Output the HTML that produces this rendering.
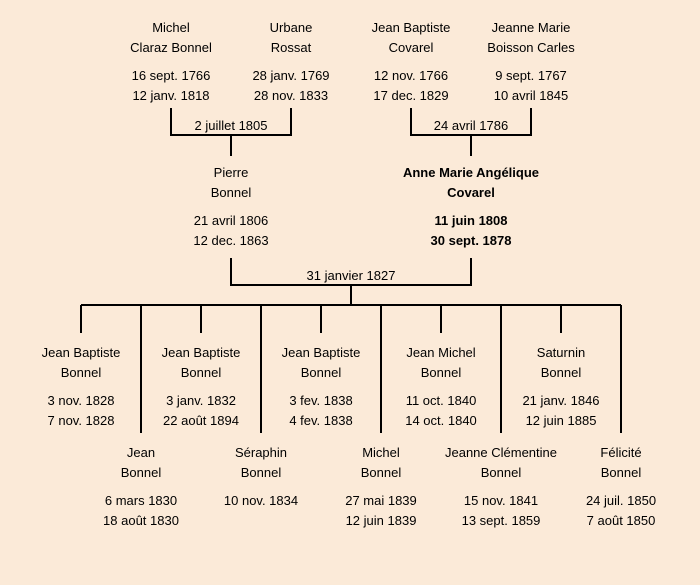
<!DOCTYPE html>
<html><head><meta charset="utf-8"><style>
html,body{margin:0;padding:0;background:#fbead8;}
svg{display:block;}
text{font-family:"Liberation Sans",sans-serif;font-size:13px;fill:#000;text-anchor:middle;}
.b{font-weight:bold;}
</style></head><body>
<svg width="700" height="585" viewBox="0 0 700 585" xmlns="http://www.w3.org/2000/svg">
<rect width="700" height="585" fill="#fbead8"/>
<g stroke="#000" stroke-width="2" fill="none">
<path d="M171 108V135H291V108M231 135V156"/>
<path d="M411 108V135H531V108M471 135V156"/>
<path d="M231 258V285H471V258M351 285V305"/>
<path d="M81 305H621"/>
<path d="M81 305V333M201 305V333M321 305V333M441 305V333M561 305V333"/>
<path d="M141 305V433M261 305V433M381 305V433M501 305V433M621 305V433"/>
</g>
<text x="171" y="32">Michel</text><text x="171" y="52">Claraz Bonnel</text>
<text x="171" y="80">16 sept. 1766</text><text x="171" y="100">12 janv. 1818</text>
<text x="291" y="32">Urbane</text><text x="291" y="52">Rossat</text>
<text x="291" y="80">28 janv. 1769</text><text x="291" y="100">28 nov. 1833</text>
<text x="411" y="32">Jean Baptiste</text><text x="411" y="52">Covarel</text>
<text x="411" y="80">12 nov. 1766</text><text x="411" y="100">17 dec. 1829</text>
<text x="531" y="32">Jeanne Marie</text><text x="531" y="52">Boisson Carles</text>
<text x="531" y="80">9 sept. 1767</text><text x="531" y="100">10 avril 1845</text>
<text x="231" y="130">2 juillet 1805</text>
<text x="471" y="130">24 avril 1786</text>

<text x="231" y="177">Pierre</text><text x="231" y="197">Bonnel</text>
<text x="231" y="225">21 avril 1806</text><text x="231" y="245">12 dec. 1863</text>
<text class="b" x="471" y="177">Anne Marie Angélique</text><text class="b" x="471" y="197">Covarel</text>
<text class="b" x="471" y="225">11 juin 1808</text><text class="b" x="471" y="245">30 sept. 1878</text>
<text x="351" y="280">31 janvier 1827</text>

<text x="81" y="357">Jean Baptiste</text><text x="81" y="377">Bonnel</text>
<text x="81" y="405">3 nov. 1828</text><text x="81" y="425">7 nov. 1828</text>
<text x="201" y="357">Jean Baptiste</text><text x="201" y="377">Bonnel</text>
<text x="201" y="405">3 janv. 1832</text><text x="201" y="425">22 août 1894</text>
<text x="321" y="357">Jean Baptiste</text><text x="321" y="377">Bonnel</text>
<text x="321" y="405">3 fev. 1838</text><text x="321" y="425">4 fev. 1838</text>
<text x="441" y="357">Jean Michel</text><text x="441" y="377">Bonnel</text>
<text x="441" y="405">11 oct. 1840</text><text x="441" y="425">14 oct. 1840</text>
<text x="561" y="357">Saturnin</text><text x="561" y="377">Bonnel</text>
<text x="561" y="405">21 janv. 1846</text><text x="561" y="425">12 juin 1885</text>

<text x="141" y="457">Jean</text><text x="141" y="477">Bonnel</text>
<text x="141" y="505">6 mars 1830</text><text x="141" y="525">18 août 1830</text>
<text x="261" y="457">Séraphin</text><text x="261" y="477">Bonnel</text>
<text x="261" y="505">10 nov. 1834</text>
<text x="381" y="457">Michel</text><text x="381" y="477">Bonnel</text>
<text x="381" y="505">27 mai 1839</text><text x="381" y="525">12 juin 1839</text>
<text x="501" y="457">Jeanne Clémentine</text><text x="501" y="477">Bonnel</text>
<text x="501" y="505">15 nov. 1841</text><text x="501" y="525">13 sept. 1859</text>
<text x="621" y="457">Félicité</text><text x="621" y="477">Bonnel</text>
<text x="621" y="505">24 juil. 1850</text><text x="621" y="525">7 août 1850</text>
</svg>
</body></html>
